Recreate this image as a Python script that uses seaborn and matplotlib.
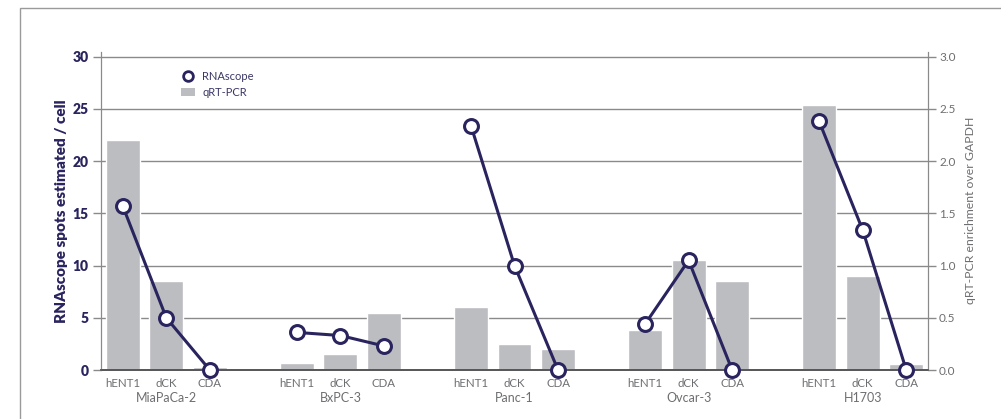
import numpy as np
import pandas as pd
import matplotlib.pyplot as plt
import seaborn as sns
from matplotlib.lines import Line2D
from matplotlib.patches import Patch, Rectangle

# data
groups = ["MiaPaCa-2", "BxPC-3", "Panc-1", "Ovcar-3", "H1703"]
genes = ["hENT1", "dCK", "CDA"]
rnascope = [15.7, 5.0, 0.0,
            3.6, 3.3, 2.3,
            23.4, 10.0, 0.0,
            4.4, 10.5, 0.0,
            23.8, 13.4, 0.0]
qrtpcr = [2.20, 0.85, 0.03,
          0.07, 0.15, 0.55,
          0.60, 0.25, 0.20,
          0.38, 1.05, 0.85,
          2.54, 0.90, 0.06]

navy = "#29245e"
bar_gray = "#bcbdc1"
txt_gray = "#6d6e71"

# slot positions: 3 genes per group + one empty slot between groups
pos = [g * 4 + c + 0.5 for g in range(len(groups)) for c in range(len(genes))]
df = pd.DataFrame({
    "group": np.repeat(groups, len(genes)),
    "gene": genes * len(groups),
    "x": pos,
    "rnascope": rnascope,
    "qrtpcr": qrtpcr,
})

sns.set_style("white")
plt.rcParams["font.family"] = ["Lato", "DejaVu Sans"]

fig = plt.figure(figsize=(10.01, 4.19), dpi=100)
# outer frame, cut off on the right and bottom like the reference
fig.patches.append(Rectangle((20 / 1001, -0.05), 1.05, 1 - 8 / 419 + 0.05,
                             transform=fig.transFigure, fill=False,
                             edgecolor="#9a9a9a", linewidth=1.0))

ax = fig.add_axes([101 / 1001, 1 - 370 / 419, 827 / 1001, 318.5 / 419])
ax2 = ax.twinx()

# bars on the right axis (qRT-PCR)
sns.barplot(data=df, x="x", y="qrtpcr", native_scale=True, color=bar_gray,
            saturation=1, width=0.78, ax=ax2, zorder=2)
ax2.set_ylim(0, 3.05)
ax2.set_yticks(np.arange(0, 3.01, 0.5))
ax2.set_yticklabels([f"{v:.1f}" for v in np.arange(0, 3.01, 0.5)])
ax2.set_axisbelow(True)
ax2.grid(axis="y", color="#8a8a8a", linewidth=1.0, zorder=0)
ax2.set_ylabel("qRT-PCR enrichment over GAPDH", color=txt_gray, fontsize=8.8, labelpad=7)
ax2.tick_params(axis="y", colors="#8a8a8a", labelcolor=txt_gray, labelsize=8.5,
                length=6, width=1, direction="out", pad=2)

# lines on the left axis (RNAscope), drawn above the bars
sns.lineplot(data=df, x="x", y="rnascope", units="group", estimator=None,
             color=navy, linewidth=2.2, marker="o", markersize=10,
             markerfacecolor="white", markeredgecolor=navy, markeredgewidth=2.2,
             ax=ax, clip_on=False, zorder=5)
ax.set_zorder(ax2.get_zorder() + 1)
ax.patch.set_visible(False)
ax.set_ylim(0, 30.5)
ax.set_yticks(range(0, 31, 5))
ax.set_ylabel("RNAscope spots estimated / cell", color=navy, fontsize=11,
              fontweight="heavy", labelpad=3)
ax.tick_params(axis="y", colors="#8a8a8a", labelcolor=navy, labelsize=10,
               length=6, width=1, direction="out", pad=3)
for lab in ax.get_yticklabels():
    lab.set_fontweight("heavy")

# x axis: gene labels at slot centres, ticks on every slot edge
ax.set_xlim(0, 19)
ax2.set_xlim(0, 19)
ax.set_xticks(pos)
ax.set_xticklabels(genes * len(groups), color=txt_gray, fontsize=8.3)
ax.set_xticks(range(0, 20), minor=True)
ax.tick_params(axis="x", which="major", length=0, pad=6)
ax.tick_params(axis="x", which="minor", length=5, width=1, color="#555555", direction="out")
ax.set_xlabel("")
ax2.set_xlabel("")
for g, name in enumerate(groups):
    ax.text(g * 4 + 1.5, -0.07, name, transform=ax.get_xaxis_transform(),
            ha="center", va="top", color=txt_gray, fontsize=9)

for a in (ax, ax2):
    a.spines["top"].set_visible(False)
    a.spines["left"].set_color("#8a8a8a")
    a.spines["right"].set_color("#8a8a8a")
    a.spines["bottom"].set_color("#555555")
    a.spines["bottom"].set_linewidth(1.2)

handles = [Line2D([], [], linestyle="none", marker="o", markersize=7,
                  markerfacecolor="white", markeredgecolor=navy, markeredgewidth=2),
           Patch(facecolor=bar_gray, edgecolor="none")]
leg = ax.legend(handles, ["RNAscope", "qRT-PCR"], loc="upper left",
                bbox_to_anchor=(0.085, 0.97), frameon=False, fontsize=8,
                handlelength=1.2, handletextpad=0.7, labelspacing=0.45)
for t in leg.get_texts():
    t.set_color("#3a3766")

fig.savefig("out.png", dpi=100)
